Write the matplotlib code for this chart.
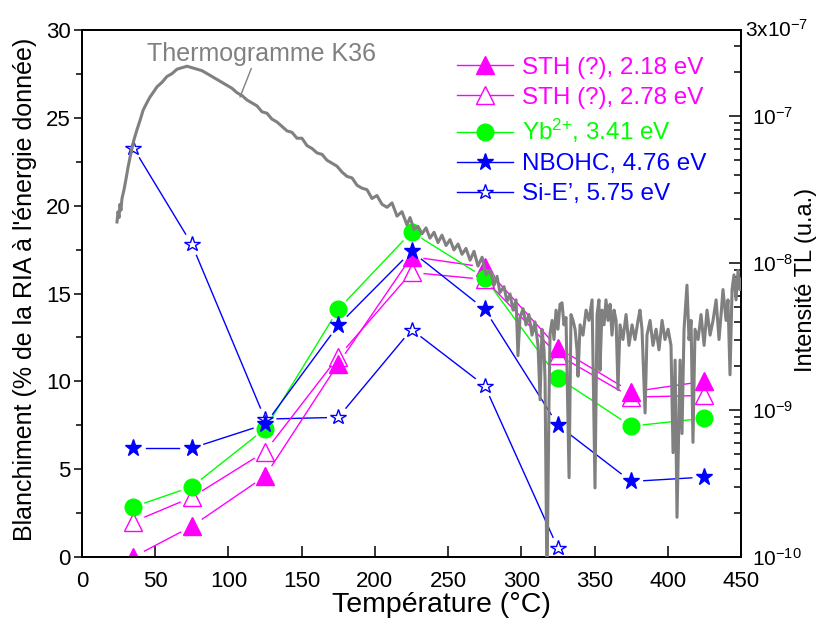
import numpy as np
import matplotlib
matplotlib.use("Agg")
import matplotlib.pyplot as plt
from matplotlib.lines import Line2D
from matplotlib.ticker import FixedLocator, LogLocator, MultipleLocator, NullFormatter

plt.rcParams["font.family"] = ["Liberation Sans", "DejaVu Sans"]
plt.rcParams["mathtext.fontset"] = "custom"
plt.rcParams["mathtext.rm"] = "Liberation Sans"
plt.rcParams["mathtext.it"] = "Liberation Sans:italic"
plt.rcParams["mathtext.bf"] = "Liberation Sans:bold"

# temperatures of the bleaching steps (°C)
temp = [35, 75, 125, 175, 225, 275, 325, 375, 425]
sth_218 = [0.0, 1.75, 4.6, 11.0, 17.1, 16.5, 11.9, 9.4, 10.0]
sth_278 = [2.0, 3.4, 6.0, 11.4, 16.2, 15.8, 11.5, 9.1, 9.2]
yb_341 = [2.85, 4.0, 7.3, 14.1, 18.5, 15.9, 10.2, 7.45, 7.9]
nbohc_476 = [6.2, 6.2, 7.55, 13.2, 17.4, 14.1, 7.5, 4.3, 4.55]
temp_sie = [35, 75, 125, 175, 225, 275, 325]
sie_575 = [23.3, 17.8, 7.85, 7.95, 12.95, 9.75, 0.5]

# thermogramme K36 : temperature (°C) and log10 of TL intensity (u.a.)
tl_temp = [
    23.9, 24.6, 25.3, 25.9, 26.6, 27.3, 28.7, 30.0, 31.4, 32.8,
    34.1, 35.5, 37.6, 39.6, 41.7, 43.7, 46.4, 49.2, 51.2, 54.6,
    58.0, 61.5, 64.9, 68.3, 71.7, 75.1, 78.5, 81.9, 85.4, 88.8,
    92.2, 95.6, 99.0, 102.4, 105.8, 109.3, 112.7, 116.1, 119.5, 122.9,
    126.3, 129.7, 133.2, 136.6, 140.0, 143.4, 146.8, 150.2, 153.6, 157.1,
    160.5, 163.9, 167.3, 170.7, 174.1, 177.5, 181.0, 184.4, 187.8, 191.2,
    194.6, 198.0, 201.4, 204.9, 208.3, 211.7, 215.1, 218.5, 221.9, 224.0,
    226.7, 229.4, 232.2, 234.9, 237.6, 240.4, 243.1, 245.8, 248.6, 251.3,
    254.0, 256.8, 259.5, 262.2, 265.0, 267.7, 270.4, 273.2, 275.9, 278.6,
    281.4, 283.4, 285.4, 288.2, 290.2, 292.3, 294.3, 296.4, 297.7, 299.1,
    301.2, 303.2, 305.2, 307.3, 309.3, 311.4, 312.8, 314.1, 315.5, 316.2,
    317.5, 318.9, 319.6, 321.0, 322.3, 323.7, 325.0, 326.4, 327.8, 329.1,
    330.5, 332.6, 333.9, 335.3, 336.7, 338.0, 338.7, 340.1, 342.1, 344.2,
    346.2, 348.3, 350.3, 351.7, 353.0, 353.7, 355.1, 356.5, 357.8, 359.2,
    360.6, 361.9, 363.3, 364.7, 366.0, 367.4, 369.4, 371.5, 373.5, 375.6,
    377.6, 379.7, 381.0, 382.4, 384.5, 385.8, 387.9, 389.9, 392.0, 394.0,
    396.1, 398.1, 400.2, 402.2, 403.6, 405.0, 406.3, 408.4, 409.7, 411.1,
    413.1, 414.5, 415.9, 417.2, 418.6, 420.7, 422.7, 424.8, 426.8, 428.9,
    430.9, 433.0, 435.0, 436.4, 437.7, 439.8, 441.1, 442.5, 443.9, 445.2,
    446.6, 448.0, 449.3, 450.0,
]
tl_log10 = [
    -7.72, -7.65, -7.69, -7.60, -7.64, -7.56, -7.50, -7.43, -7.35, -7.28,
    -7.22, -7.16, -7.09, -7.03, -6.96, -6.92, -6.87, -6.83, -6.80, -6.77,
    -6.73, -6.71, -6.68, -6.67, -6.66, -6.67, -6.68, -6.69, -6.71, -6.73,
    -6.75, -6.77, -6.79, -6.81, -6.84, -6.86, -6.89, -6.91, -6.93, -6.97,
    -6.98, -7.02, -7.04, -7.07, -7.10, -7.11, -7.15, -7.15, -7.20, -7.22,
    -7.25, -7.26, -7.30, -7.32, -7.34, -7.38, -7.41, -7.42, -7.47, -7.49,
    -7.50, -7.56, -7.54, -7.60, -7.62, -7.59, -7.68, -7.65, -7.74, -7.69,
    -7.77, -7.75, -7.80, -7.76, -7.83, -7.79, -7.86, -7.81, -7.88, -7.84,
    -7.91, -7.87, -7.94, -7.90, -7.98, -7.92, -8.02, -7.96, -8.08, -8.05,
    -8.15, -8.09, -8.20, -8.16, -8.26, -8.21, -8.32, -8.25, -8.63, -8.37,
    -8.31, -8.42, -8.35, -8.49, -8.40, -8.56, -8.93, -8.45, -8.59, -8.80,
    -10.2, -8.93, -8.48, -8.39, -8.52, -8.32, -8.45, -8.28, -8.27, -8.42,
    -8.37, -9.46, -8.35, -8.39, -8.45, -8.59, -8.77, -8.42, -8.49, -8.32,
    -8.39, -8.25, -9.53, -8.35, -8.25, -8.73, -8.32, -8.42, -8.25, -8.39,
    -8.28, -8.49, -8.32, -8.39, -8.86, -8.42, -8.52, -8.35, -8.56, -8.42,
    -8.52, -8.39, -8.32, -8.45, -9.02, -8.49, -8.39, -8.56, -8.45, -8.59,
    -8.39, -8.52, -8.45, -8.56, -9.29, -8.66, -9.73, -8.66, -9.16, -8.45,
    -8.15, -8.52, -8.39, -9.22, -8.45, -8.52, -8.35, -8.56, -8.32, -8.49,
    -8.39, -8.25, -8.52, -8.35, -8.18, -8.39, -8.25, -8.76, -8.18, -8.08,
    -8.25, -8.05, -8.18, -8.11,
]

MAGENTA = "#FF00FF"
GREEN = "#00FF00"
BLUE = "#0000FF"
GREY = "#808080"
DPI = 100


def gapped_line(ax, xs, ys, color, gap_px):
    # Origin style: the connecting line stops short of each symbol
    pts = ax.transData.transform(np.column_stack([xs, ys]))
    inv = ax.transData.inverted()
    for p, q in zip(pts[:-1], pts[1:]):
        d = q - p
        length = np.hypot(*d)
        if length <= 2 * gap_px:
            continue
        u = d / length
        a = inv.transform(p + u * gap_px)
        b = inv.transform(q - u * gap_px)
        ax.plot([a[0], b[0]], [a[1], b[1]], color=color, lw=1.0, zorder=2)


def main() -> None:
    fig = plt.figure(figsize=(8.24, 6.30), dpi=DPI)
    ax = fig.add_axes([82 / 824, 1 - 557 / 630, 659 / 824, 527 / 630])
    ax.set_xlim(0, 450)
    ax.set_ylim(0, 30)
    ax2 = ax.twinx()
    ax2.set_yscale("log")
    ax2.set_ylim(1e-10, 3.86e-7)

    series = [
        (temp_sie, sie_575, BLUE, "*", 11.5, "none", "Si-E’, 5.75 eV"),
        (temp, sth_218, MAGENTA, "^", 12.5, MAGENTA, "STH (?), 2.18 eV"),
        (temp, sth_278, MAGENTA, "^", 12.5, "none", "STH (?), 2.78 eV"),
        (temp, yb_341, GREEN, "o", 12, GREEN, "Yb$^{2{+}}$, 3.41 eV"),
        (temp, nbohc_476, BLUE, "*", 12.5, BLUE, "NBOHC, 4.76 eV"),
    ]
    handles = {}
    for xs, ys, col, mk, ms, mfc, lab in series:
        gapped_line(ax, xs, ys, col, ms * DPI / 72 / 2 + 4)
        ax.plot(xs, ys, ls="none", marker=mk, ms=ms, mfc=mfc, mec=col, mew=1.0, zorder=3)
        handles[lab] = Line2D([], [], color=col, lw=1.0, marker=mk, ms=ms,
                              mfc=(mfc if mfc != "none" else "white"), mec=col, mew=1.0)

    ax2.plot(tl_temp, 10 ** np.array(tl_log10), color=GREY, lw=2.2, zorder=4)
    ax2.annotate("Thermogramme K36", xy=(107.9, 10 ** -6.87), xytext=(44.4, 10 ** -6.575),
                 ha="left", va="center", fontsize=18, color=GREY,
                 arrowprops=dict(arrowstyle="-", color=GREY, lw=1.0, shrinkA=0, shrinkB=0,
                                 relpos=(0.46, 0.0)))

    order = ["STH (?), 2.18 eV", "STH (?), 2.78 eV", "Yb$^{2{+}}$, 3.41 eV",
             "NBOHC, 4.76 eV", "Si-E’, 5.75 eV"]
    ax2.legend([handles[k] for k in order], order, loc="upper left",
               bbox_to_anchor=(0.569, 0.949), frameon=False, fontsize=17.5,
               handlelength=2.3, handletextpad=0.38, labelspacing=0.33,
               borderpad=0, borderaxespad=0, labelcolor="linecolor")

    # left axis
    ax.yaxis.set_major_locator(MultipleLocator(5))
    ax.yaxis.set_minor_locator(MultipleLocator(2.5))
    ax.xaxis.set_major_locator(MultipleLocator(50))
    ax.tick_params(axis="y", which="major", direction="out", length=6, width=1.1, labelsize=16, pad=2)
    ax.tick_params(axis="y", which="minor", direction="out", length=4, width=1.1)
    ax.tick_params(axis="x", which="major", direction="in", length=8, width=1.1, labelsize=16, pad=10)

    # right log axis; the top value is written at the axis end
    ax2.yaxis.set_major_locator(FixedLocator([1e-10, 1e-9, 1e-8, 1e-7, 3.86e-7]))
    ax2.set_yticklabels(["$10^{-10}$", "$10^{-9}$", "$10^{-8}$", "$10^{-7}$", ""])
    ax2.yaxis.set_minor_locator(LogLocator(base=10, subs=np.arange(2, 10)))
    ax2.yaxis.set_minor_formatter(NullFormatter())
    ax2.tick_params(axis="y", which="major", direction="in", length=9, width=1.1, labelsize=15, pad=8)
    ax2.tick_params(axis="y", which="minor", direction="in", length=5, width=1.1)
    ax2.text(1.006, 1.0, "3x$10^{-7}$", transform=ax2.transAxes, ha="left", va="center",
             fontsize=15)

    for a in (ax, ax2):
        for sp in a.spines.values():
            sp.set_linewidth(1.3)

    ax.set_xlabel("Température (°C)", fontsize=20.5)
    ax.xaxis.set_label_coords(0.546, -0.091)
    ax.xaxis.label.set_va("center")
    ax.set_ylabel("Blanchiment (% de la RIA à l'énergie donnée)", fontsize=18)
    ax.yaxis.set_label_coords(-0.0865, 0.508)
    ax.yaxis.label.set_va("center")
    ax2.set_ylabel("Intensité TL (u.a.)", fontsize=17)
    ax2.yaxis.set_label_coords(1.099, 0.526)
    ax2.yaxis.label.set_va("center")

    fig.savefig("out.png", dpi=DPI)
    plt.close(fig)


if __name__ == "__main__":
    main()
